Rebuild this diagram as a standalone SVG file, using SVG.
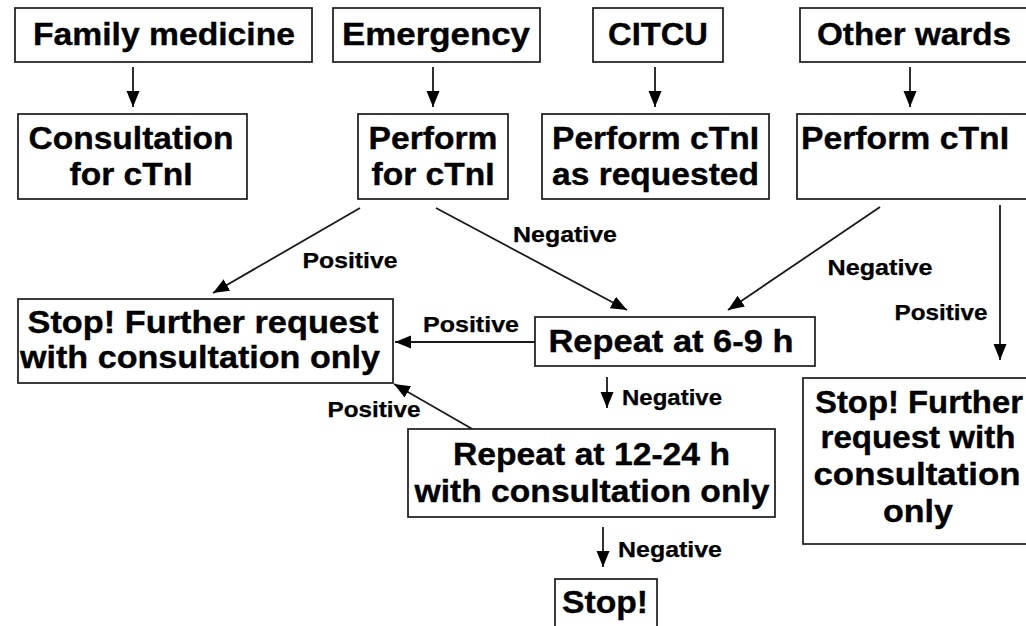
<svg xmlns="http://www.w3.org/2000/svg" width="1026" height="626" viewBox="0 0 1026 626">
<style>
  .box { fill: #ffffff; stroke: #1a1a1a; stroke-width: 1.7; }
  .t { font-family: "Liberation Sans", Arial, Helvetica, sans-serif; font-weight: bold; font-size: 30.5px; fill: #000; stroke: #000; stroke-width: 0.35; text-anchor: middle; }
  .l { font-family: "Liberation Sans", Arial, Helvetica, sans-serif; font-weight: bold; font-size: 22px; fill: #000; stroke: #000; stroke-width: 0.25; text-anchor: middle; }
  .c { stroke: #1a1a1a; stroke-width: 1.8; fill: none; marker-end: url(#ah); }
</style>
<defs>
  <marker id="ah" markerUnits="userSpaceOnUse" markerWidth="18" markerHeight="14" refX="16" refY="6.5" orient="auto">
    <path d="M0,0 L16,6.5 L0,13 z" fill="#000"/>
  </marker>
</defs>
<rect width="1026" height="626" fill="#ffffff"/>

<g id="connectors">
  <line class="c" x1="133" y1="67" x2="133" y2="107"/>
  <line class="c" x1="433" y1="67" x2="433" y2="107"/>
  <line class="c" x1="655" y1="67" x2="655" y2="107"/>
  <line class="c" x1="910" y1="67" x2="910" y2="107"/>
  <line class="c" x1="360" y1="208" x2="213" y2="293"/>
  <line class="c" x1="436" y1="208" x2="627" y2="310"/>
  <line class="c" x1="880" y1="207" x2="728" y2="310"/>
  <line class="c" x1="1000" y1="205" x2="1000" y2="360"/>
  <line class="c" x1="535" y1="342" x2="395" y2="342"/>
  <line class="c" x1="607" y1="377" x2="607" y2="408"/>
  <line class="c" x1="474" y1="430" x2="394" y2="384"/>
  <line class="c" x1="603" y1="527" x2="603" y2="567"/>
  <text class="l" x="350" y="268" textLength="95" lengthAdjust="spacingAndGlyphs">Positive</text>
  <text class="l" x="565" y="242" textLength="104" lengthAdjust="spacingAndGlyphs">Negative</text>
  <text class="l" x="880" y="275" textLength="105" lengthAdjust="spacingAndGlyphs">Negative</text>
  <text class="l" x="941" y="320" textLength="93" lengthAdjust="spacingAndGlyphs">Positive</text>
  <text class="l" x="471" y="332" textLength="96" lengthAdjust="spacingAndGlyphs">Positive</text>
  <text class="l" x="672" y="405" textLength="100" lengthAdjust="spacingAndGlyphs">Negative</text>
  <text class="l" x="374" y="417" textLength="93" lengthAdjust="spacingAndGlyphs">Positive</text>
  <text class="l" x="670" y="557" textLength="104" lengthAdjust="spacingAndGlyphs">Negative</text>
</g>

<g id="n_family">
  <rect class="box" x="15" y="8" width="297" height="54"/>
  <text class="t" x="164" y="45" textLength="262" lengthAdjust="spacingAndGlyphs">Family medicine</text>
</g>
<g id="n_emergency">
  <rect class="box" x="333" y="8" width="207" height="54"/>
  <text class="t" x="436" y="45" textLength="188" lengthAdjust="spacingAndGlyphs">Emergency</text>
</g>
<g id="n_citcu">
  <rect class="box" x="593" y="8" width="130" height="54"/>
  <text class="t" x="658" y="45" textLength="100" lengthAdjust="spacingAndGlyphs">CITCU</text>
</g>
<g id="n_other">
  <rect class="box" x="800" y="8" width="232" height="54"/>
  <text class="t" x="914" y="45" textLength="194" lengthAdjust="spacingAndGlyphs">Other wards</text>
</g>

<g id="n_consult">
  <rect class="box" x="18" y="114" width="229" height="85"/>
  <text class="t" x="131" y="149" textLength="205" lengthAdjust="spacingAndGlyphs">Consultation</text>
  <text class="t" x="131" y="185" textLength="123" lengthAdjust="spacingAndGlyphs">for cTnI</text>
</g>
<g id="n_perform_em">
  <rect class="box" x="358" y="114" width="150" height="85"/>
  <text class="t" x="433" y="149" textLength="129" lengthAdjust="spacingAndGlyphs">Perform</text>
  <text class="t" x="433" y="185" textLength="123" lengthAdjust="spacingAndGlyphs">for cTnI</text>
</g>
<g id="n_perform_citcu">
  <rect class="box" x="542" y="114" width="227" height="85"/>
  <text class="t" x="655.5" y="149" textLength="207" lengthAdjust="spacingAndGlyphs">Perform cTnI</text>
  <text class="t" x="655.5" y="185" textLength="207" lengthAdjust="spacingAndGlyphs">as requested</text>
</g>
<g id="n_perform_other">
  <rect class="box" x="797" y="114" width="235" height="85"/>
  <text class="t" x="905" y="149" textLength="208" lengthAdjust="spacingAndGlyphs">Perform cTnI</text>
</g>

<g id="n_stop_further_left">
  <rect class="box" x="18" y="299" width="375" height="84"/>
  <text class="t" x="203" y="333" textLength="351" lengthAdjust="spacingAndGlyphs">Stop! Further request</text>
  <text class="t" x="200" y="368" textLength="360" lengthAdjust="spacingAndGlyphs">with consultation only</text>
</g>
<g id="n_repeat69">
  <rect class="box" x="535" y="317" width="280" height="49"/>
  <text class="t" x="671" y="352" textLength="245" lengthAdjust="spacingAndGlyphs">Repeat at 6-9 h</text>
</g>
<g id="n_repeat1224">
  <rect class="box" x="408" y="429" width="367" height="88"/>
  <text class="t" x="591.5" y="465" textLength="277" lengthAdjust="spacingAndGlyphs">Repeat at 12-24 h</text>
  <text class="t" x="592" y="502" textLength="355" lengthAdjust="spacingAndGlyphs">with consultation only</text>
</g>
<g id="n_stop_further_right">
  <rect class="box" x="803" y="378" width="232" height="166"/>
  <text class="t" x="919" y="413" textLength="208" lengthAdjust="spacingAndGlyphs">Stop! Further</text>
  <text class="t" x="918" y="448" textLength="195" lengthAdjust="spacingAndGlyphs">request with</text>
  <text class="t" x="917" y="485" textLength="207" lengthAdjust="spacingAndGlyphs">consultation</text>
  <text class="t" x="918" y="522" textLength="70" lengthAdjust="spacingAndGlyphs">only</text>
</g>
<g id="n_stop">
  <rect class="box" x="555" y="579" width="102" height="60"/>
  <text class="t" x="605" y="613" textLength="86" lengthAdjust="spacingAndGlyphs">Stop!</text>
</g>
</svg>
